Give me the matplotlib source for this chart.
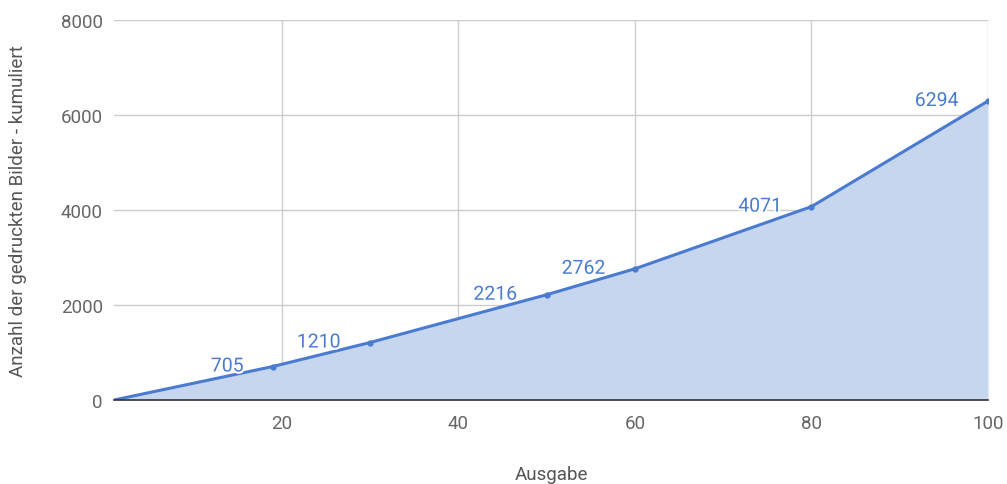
import matplotlib
matplotlib.use("Agg")
import matplotlib.pyplot as plt
import matplotlib.patheffects as pe

plt.rcParams['font.family'] = ['Roboto', 'DejaVu Sans']

# data
ausgabe = [1, 19, 30, 50, 60, 80, 100]
bilder = [0, 705, 1210, 2216, 2762, 4071, 6294]
labeled = [19, 30, 50, 60, 80, 100]

line_col = '#4a7bd0'
fill_col = '#c6d6ef'

fig = plt.figure(figsize=(10.07, 4.85), dpi=100)
ax = fig.add_axes([0.1132, 0.1732, 0.8679, 0.7835])

ax.fill_between(ausgabe, bilder, 0, color=fill_col, lw=0, zorder=2)
ax.plot(ausgabe, bilder, color=line_col, lw=2.2, zorder=3)
ax.plot(ausgabe[1:], bilder[1:], 'o', color=line_col, ms=3.5, zorder=4)

for x, y in zip(ausgabe, bilder):
    if x not in labeled:
        continue
    t = ax.annotate(str(y), (x, y), xytext=(-21, 0), textcoords='offset points',
                    ha='right', va='center', fontsize=14, color=line_col, zorder=5)
    t.set_path_effects([pe.withStroke(linewidth=3, foreground='white')])

ax.set_xlim(1, 100)
ax.set_ylim(0, 8000)
ax.set_xticks([20, 40, 60, 80, 100])
ax.set_yticks([0, 2000, 4000, 6000, 8000])
ax.grid(True, color='#cccccc', lw=1, zorder=1)
for s in ['top', 'right', 'left']:
    ax.spines[s].set_visible(False)
ax.spines['bottom'].set_color('#333333')
ax.spines['bottom'].set_linewidth(1.2)
ax.spines['bottom'].set_zorder(6)
ax.tick_params(length=0, labelsize=13.5, labelcolor='#666666', pad=10)
ax.tick_params(axis='y', pad=8)

ax.set_xlabel('Ausgabe', fontsize=13.5, color='#555555', labelpad=24)
ax.set_ylabel('Anzahl der gedruckten Bilder - kumuliert', fontsize=13.5, color='#555555', labelpad=24)

fig.savefig('out.png', dpi=100, facecolor='white')
